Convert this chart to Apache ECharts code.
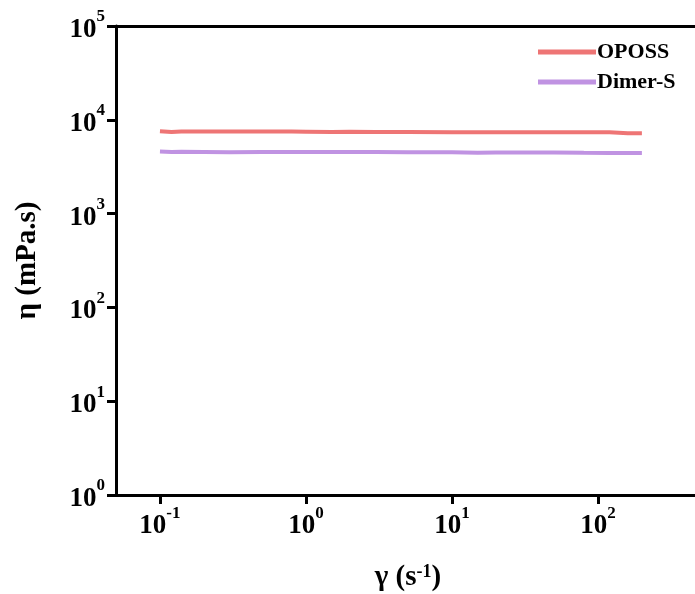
<!DOCTYPE html>
<html>
<head>
<meta charset="utf-8">
<script src="https://cdn.jsdelivr.net/npm/echarts@6/dist/echarts.min.js"></script>
<style>
  html, body { margin: 0; padding: 0; background: #fff; }
  #chart { width: 695px; height: 594px; }
</style>
</head>
<body>
<div id="chart"></div>
<script>
// shear rate (1/s)
var shearRate = [0.1, 0.12, 0.14, 0.2, 0.3, 0.5, 0.8, 1, 1.5, 2, 3, 5, 10, 15, 20, 50, 80, 120, 160, 200];
// viscosity (mPa.s)
var oposs = [7550, 7400, 7500, 7500, 7500, 7500, 7500, 7480, 7420, 7450, 7400, 7400, 7380, 7380, 7380, 7380, 7380, 7350, 7200, 7200];
var dimerS = [4600, 4550, 4560, 4550, 4520, 4540, 4540, 4530, 4530, 4530, 4530, 4520, 4500, 4450, 4480, 4480, 4450, 4430, 4430, 4430];

var font = "'Liberation Serif', 'Times New Roman', serif";

function powLabel(v) {
    var e = Math.round(Math.log10(v));
    return '{b|10}{s|' + e + '}';
}
var labelRich = {
    b: { fontFamily: font, fontWeight: 'bold', fontSize: 27, color: '#000', padding: [8, 0, 0, 0] },
    s: { fontFamily: font, fontWeight: 'bold', fontSize: 17, color: '#000', verticalAlign: 'top' }
};

var myChart = echarts.init(document.getElementById('chart'));

var option = {
    animation: false,
    backgroundColor: '#fff',
    legend: {
        left: 533,
        top: 36,
        orient: 'vertical',
        itemWidth: 58,
        itemHeight: 5,
        itemGap: 8,
        icon: 'rect',
        textStyle: { fontFamily: font, fontWeight: 'bold', fontSize: 22, color: '#000', padding: [0, 0, 0, -4] },
        data: ['OPOSS', 'Dimer-S']
    },
    grid: { left: 116, right: -5, top: 26, bottom: 99, outerBoundsMode: 'none', containLabel: false },
    xAxis: [{
        type: 'log',
        logBase: 10,
        min: 0.05,
        max: 500,
        name: 'γ (s{s|-1})',
        nameLocation: 'middle',
        nameGap: 68,
        nameTextStyle: {
            fontFamily: font, fontWeight: 'bold', fontSize: 29, color: '#000',
            rich: { s: { fontFamily: font, fontWeight: 'bold', fontSize: 18, color: '#000', verticalAlign: 'top' } }
        },
        axisLine: { lineStyle: { color: '#000', width: 3 } },
        axisTick: { inside: false, length: 9, lineStyle: { color: '#000', width: 3 } },
        minorTick: { show: false },
        splitLine: { show: false },
        axisLabel: {
            showMinLabel: false, showMaxLabel: false,
            margin: 10,
            formatter: powLabel, rich: labelRich
        }
    }, {
        type: 'log',
        position: 'top',
        min: 0.05,
        max: 500,
        axisLine: { lineStyle: { color: '#000', width: 3 } },
        axisTick: { show: false },
        axisLabel: { show: false },
        splitLine: { show: false }
    }],
    yAxis: {
        type: 'log',
        logBase: 10,
        min: 1,
        max: 100000,
        name: 'η (mPa.s)',
        nameLocation: 'middle',
        nameGap: 74,
        nameTextStyle: { fontFamily: font, fontWeight: 'bold', fontSize: 29, color: '#000' },
        axisLine: { lineStyle: { color: '#000', width: 3 } },
        axisTick: { inside: false, length: 9, lineStyle: { color: '#000', width: 3 } },
        splitLine: { show: false },
        axisLabel: { margin: 11, formatter: powLabel, rich: labelRich }
    },
    series: [{
        name: 'OPOSS',
        type: 'line',
        showSymbol: false,
        lineStyle: { color: '#EE7575', width: 4 },
        itemStyle: { color: '#EE7575' },
        data: shearRate.map(function (x, i) { return [x, oposs[i]]; })
    }, {
        name: 'Dimer-S',
        type: 'line',
        showSymbol: false,
        lineStyle: { color: '#C093E2', width: 4 },
        itemStyle: { color: '#C093E2' },
        data: shearRate.map(function (x, i) { return [x, dimerS[i]]; })
    }]
};

myChart.setOption(option);
</script>
</body>
</html>
